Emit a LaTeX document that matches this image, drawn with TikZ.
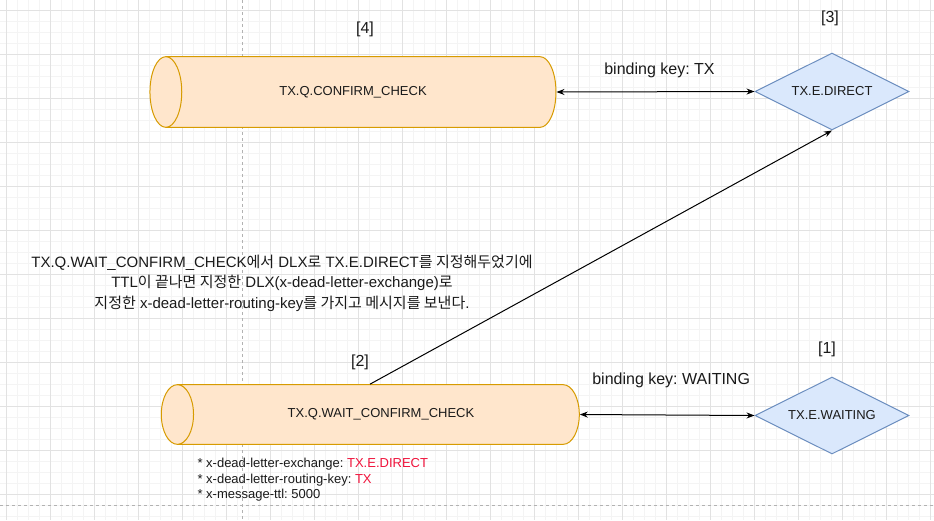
\documentclass[tikz,border=0pt]{standalone}
\usepackage{fontspec}
\setmainfont{Liberation Sans}
\newfontfamily\krfont{Noto Sans CJK KR}
\usetikzlibrary{shapes.geometric,arrows.meta,positioning}

\definecolor{qfill}{HTML}{FFE6CC}
\definecolor{qline}{HTML}{D79B00}
\definecolor{xfill}{HTML}{DAE8FC}
\definecolor{xline}{HTML}{6C8EBF}
\definecolor{txt}{HTML}{1A1A1A}
\definecolor{hilite}{HTML}{F0143C}
\definecolor{gridmajor}{HTML}{E2E2E2}
\definecolor{gridminor}{HTML}{F4F4F4}

\newcommand{\hangul}[1]{{\krfont #1}}

\tikzset{
  queue/.style={cylinder, shape border rotate=180, draw=qline, fill=qfill,
    line width=1pt, aspect=0.45, minimum height=406,
    inner xsep=0pt, inner ysep=29.5pt, text=txt, font=\fontsize{13}{15}\selectfont},
  exchange/.style={diamond, aspect=2, draw=xline, fill=xfill, line width=1pt,
    minimum width=154, minimum height=77, inner sep=0pt, text=txt,
    font=\fontsize{13}{15}\selectfont},
  tag/.style={text=txt, font=\fontsize{16}{19}\selectfont},
  bind/.style={line width=1pt, {Stealth[length=8pt,width=6pt]}-{Stealth[length=8pt,width=6pt]}},
  route/.style={line width=1pt, -{Stealth[length=8pt,width=6pt]}}
}

\begin{document}
\frenchspacing
\begin{tikzpicture}[x=1pt, y=-1pt]
    \useasboundingbox (0,0) rectangle (934,520);
    \fill[white] (0,0) rectangle (934,520);

    % background grid
    \foreach \x in {6,17,...,934} {
        \draw[gridminor, line width=0.8pt] (\x,0) -- (\x,520);
    }
    \foreach \y in {10,21,...,520} {
        \draw[gridminor, line width=0.8pt] (0,\y) -- (934,\y);
    }
    \foreach \x in {6,50,...,934} {
        \draw[gridmajor, line width=0.8pt] (\x,0) -- (\x,520);
    }
    \foreach \y in {10,54,...,520} {
        \draw[gridmajor, line width=0.8pt] (0,\y) -- (934,\y);
    }
    % page breaks
    \draw[gray!60, dashed, line width=0.6pt] (242,0) -- (242,520);
    \draw[gray!60, dashed, line width=0.6pt] (0,505) -- (934,505);

    % queues (node centre sits one end radius right of the middle)
    \node[queue, execute at begin node=\kern-32pt] (confirm) at (369,92) {TX.Q.CONFIRM\_CHECK};
    \node[queue, aspect=0.54, inner ysep=24pt, minimum height=418, execute at begin node=\kern-11pt] (wait) at (386.5,414.5) {TX.Q.WAIT\_CONFIRM\_CHECK};

    % exchanges
    \node[exchange] (direct) at (832,91.5) {TX.E.DIRECT};
    \node[exchange] (waiting) at (832,415.5) {TX.E.WAITING};

    % numbers
    \node[tag] (n4) at (365,29) {[4]};
    \node[tag] (n3) at (830,18) {[3]};
    \node[tag] (n2) at (360,362) {[2]};
    \node[tag] (n1) at (827,349) {[1]};

    % bindings
    \draw[bind] (confirm.east) -- node[tag, midway, above=10pt, xshift=4pt] (bindtx) {binding key: TX} (direct.west);
    \draw[bind] (wait.east) -- node[tag, midway, above=23pt, xshift=4pt] (bindwait) {binding key: WAITING} (waiting.west);

    % dead letter route
    \draw[route] ([xshift=-16.5pt]wait.north) -- (direct.south);

    % explanation
    \node[text=txt, align=center, font=\fontsize{15}{20.5}\selectfont] (note) at (282,283)
        {TX.Q.WAIT\_CONFIRM\_CHECK\hangul{에서} DLX\hangul{로} TX.E.DIRECT\hangul{를 지정해두었기에}\\
         TTL\hangul{이 끝나면 지정한} DLX(x-dead-letter-exchange)\hangul{로}\\
         \hangul{지정한} x-dead-letter-routing-key\hangul{를 가지고 메시지를 보낸다}.};

    % queue arguments
    \node[text=txt, align=left, anchor=west, font=\fontsize{13}{15.5}\selectfont] (args) at (194,480)
        {* x-dead-letter-exchange: \textcolor{hilite}{TX.E.DIRECT}\\
         * x-dead-letter-routing-key: \textcolor{hilite}{TX}\\
         * x-message-ttl: 5000};
\end{tikzpicture}
\end{document}
